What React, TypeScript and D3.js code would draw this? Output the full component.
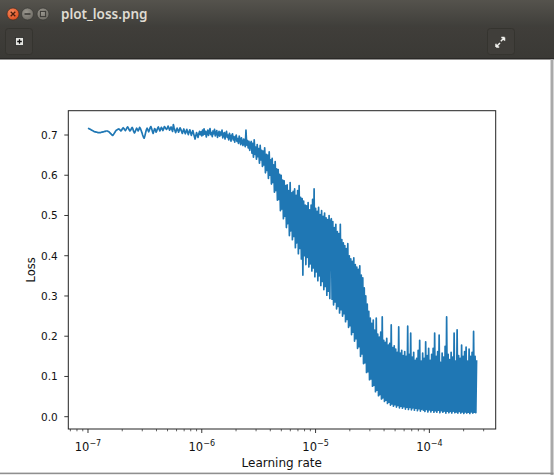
import React from 'react';
import * as d3 from 'd3';

// learning-rate schedule (exponential sweep)
const lrStart = 1e-7;
const lrEnd = 2.6e-4;

// loss values, in order of increasing learning rate
const lossWarmup = [
  .717,.716,.715,.714,.713,.712,.711,
  .710,.709,.708,.708,.707,.707,.706,.706,.706,.706,.706,.707,.707,.708,.708,.709,
  .709,.710,.710,.710,.709,.708,.706,.704,.702,.700,
  .699,.701,.704,.707,.710,.712,.713,.714,
  .715,.714,.712,.710,.712,.716,.718,.716,.713,.711,
  .714,.718,.720,.717,.713,.710,.712,.716,.719,.715,.709,.705,.708,.713,.717,.714,.710,.714,.719,.716,
  .711,.706,.700,.695,.692,.698,.706,.713,.717,.713,.708,.712,.718,.721,.716,.709,.704,.710,.716,.713,
  .707,.711,.717,.720,.715,.710,.714,.719,.716,.711,.715,.721,.719,.716,.714,.717,.722,.718,.712,.716,
  .720,.714,.709,.726,.718,.712,.706,.711,.717,.713,.707,.712,.718,.714,.709,.704,.710,.715,.708,.703,
  .709,.714,.707,.701,.708,.713,.706,.699,.705,.711,.704,.697,.690,.698,.706,.700,.694,.703,.709,.701,
];

const lossPlateauEnd = [
  .708,.698,.712,.700,.715,.702,.709,.695,.706,.712,.699,.708,.716,.701,.706,.696,.710,.703,.714,.698,
  .705,.711,.694,.702,.709,.697,.707,.700,.712,.693,.700,.706,.690,.703,.709,.694,.700,.688,.704,.697,
  .685,.699,.703,.688,.696,.682,.694,.700,.684,.691,.679,.697,.689,.676,.693,.683,.674,.690,.680,.671,
  .712,.675,.686,.668,.684,.662,.679,
];

const lossDescent = [
  .684,.655,.679,.645,.688,.652,.670,.640,.676,.646,.666,.630,.674,.638,.662,.622,
  .660,.626,.668,.606,.652,.612,.650,.592,.658,.600,.638,.578,.642,.582,.626,.558,
  .634,.562,.616,.538,.614,.540,.602,.512,.600,.516,.588,.492,.586,.498,.574,.470,
  .576,.480,.562,.450,.582,.462,.556,.440,.560,.448,.566,.420,.550,.432,.562,.405,
  .574,.418,.545,.392,.542,.352,.536,.400,.526,.378,.524,.396,.532,.372,.514,.380,
  .526,.362,.540,.370,.566,.348,.518,.360,.510,.338,.520,.350,.502,.326,.512,.336,
  .498,.316,.506,.324,.494,.302,.490,.312,.500,.294,.486,
];

const lossFloor = [
  .492,.292,.485,.278,.470,.285,.478,.268,.460,.274,.455,.258,.478,.266,.440,.250,
  .432,.256,.425,.236,.418,.242,.430,.222,.400,.226,.392,.204,.386,.210,.395,.188,
  .378,.194,.372,.170,.366,.174,.375,.150,.352,.156,.345,.132,.320,.134,.300,.110,
  .280,.112,.262,.092,.245,.094,.232,.076,.240,.078,.215,.062,.245,.066,.205,.052,
  .198,.055,.210,.044,.248,.047,.190,.038,.185,.041,.195,.033,.178,.036,.182,.029,
  .228,.032,.172,.026,.176,.030,.168,.024,.160,.028,.223,.022,.158,.026,.165,.021,
  .152,.025,.162,.019,.150,.024,.225,.018,.155,.023,.208,.017,.148,.022,.160,.016,
  .140,.021,.145,.015,.165,.020,.190,.014,.138,.019,.158,.016,.145,.013,.186,.018,
  .152,.012,.170,.017,.140,.012,.155,.016,.170,.011,.208,.015,.150,.011,.162,.016,
  .203,.010,.135,.015,.158,.011,.148,.014,.175,.009,.248,.014,.155,.010,.142,.013,
  .160,.009,.148,.014,.208,.010,.138,.012,.216,.009,.152,.013,.145,.009,.178,.012,
  .150,.008,.162,.012,.173,.009,.138,.011,.168,.008,.150,.012,.160,.009,.212,.011,
  .150,.010,.140,
];

const yTickValues = [0, 0.1, 0.2, 0.3, 0.4, 0.5, 0.6, 0.7];
const xMajorExponents = [-7, -6, -5, -4];
const xLabel = 'Learning rate';
const yLabel = 'Loss';
const windowTitle = 'plot_loss.png';

export default function App() {
  const losses = [...lossWarmup, ...lossPlateauEnd, ...lossDescent, ...lossFloor];
  const n = losses.length;
  const lrs = losses.map((_, i) => lrStart * Math.pow(lrEnd / lrStart, i / (n - 1)));

  const left = 68.3, right = 495.7, top = 110.7, bottom = 429;
  const x = d3.scaleLog().domain([Math.pow(10, -7.173), Math.pow(10, -3.417)]).range([left, right]);
  const y = d3.scaleLinear().domain([0, 0.7]).range([416.7, 135]);
  const line = d3.line<number>().x((_, i) => x(lrs[i])).y((d) => y(d));

  const [d0, d1] = x.domain();
  const minorTicks: number[] = [];
  for (let e = -8; e <= -3; e++) {
    for (let m = 2; m <= 9; m++) {
      const v = m * Math.pow(10, e);
      if (v >= d0 && v <= d1) minorTicks.push(v);
    }
  }

  const font = 'DejaVu Sans, sans-serif';
  const axisColor = '#222';

  return (
    <svg width={554} height={475} style={{ position: 'absolute', left: 0, top: 0 }} xmlns="http://www.w3.org/2000/svg">
      <defs>
        <linearGradient id="titlebar" x1="0" y1="0" x2="0" y2="1">
          <stop offset="0" stopColor="#55534d" />
          <stop offset="1" stopColor="#3f3e3a" />
        </linearGradient>
        <linearGradient id="toolbar" x1="0" y1="0" x2="0" y2="1">
          <stop offset="0" stopColor="#403e3a" />
          <stop offset="1" stopColor="#3a3935" />
        </linearGradient>
        <radialGradient id="closeBtn" cx="0.4" cy="0.35" r="0.7">
          <stop offset="0" stopColor="#f58a5f" />
          <stop offset="1" stopColor="#dc4a1a" />
        </radialGradient>
        <radialGradient id="grayBtn" cx="0.4" cy="0.35" r="0.7">
          <stop offset="0" stopColor="#9a978f" />
          <stop offset="1" stopColor="#6e6b64" />
        </radialGradient>
        <clipPath id="plotClip">
          <rect x={left} y={top} width={right - left} height={bottom - top} />
        </clipPath>
      </defs>

      <rect x={0} y={0} width={554} height={475} fill="#ffffff" />

      {/* window title bar */}
      <rect x={0} y={0} width={554} height={27} fill="url(#titlebar)" />
      <rect x={0} y={27} width={554} height={31} fill="url(#toolbar)" />
      <rect x={0} y={58} width={554} height={1.5} fill="#2a2927" />
      <circle cx={13} cy={14} r={6} fill="url(#closeBtn)" stroke="#3a2a22" strokeWidth={0.6} />
      <path d="M10.7,11.7 L15.3,16.3 M15.3,11.7 L10.7,16.3" stroke="#4a1d0c" strokeWidth={1.3} />
      <circle cx={27.5} cy={14} r={6} fill="url(#grayBtn)" stroke="#33322f" strokeWidth={0.6} />
      <rect x={24.5} y={13.2} width={6} height={1.6} fill="#3e3c38" />
      <circle cx={43} cy={14} r={6} fill="url(#grayBtn)" stroke="#33322f" strokeWidth={0.6} />
      <rect x={40.4} y={11.4} width={5.2} height={5.2} fill="none" stroke="#3e3c38" strokeWidth={1.1} />
      <text x={61} y={18.5} fontFamily="Noto Sans, sans-serif" fontSize={13.5} fontWeight={600} fill="#dfdbd2">
        {windowTitle}
      </text>

      {/* toolbar buttons */}
      <rect x={5.5} y={28.5} width={27} height={26} rx={3} fill="#403e3a" stroke="#35342f" />
      <rect x={15.5} y={37.5} width={8} height={8} fill="#e6e6e2" stroke="#2a2a28" strokeWidth={0.8} />
      <path d="M19.5,39.2 V43.8 M17.2,41.5 H21.8" stroke="#111" strokeWidth={1.3} />
      <rect x={487.5} y={28.5} width={27} height={26} rx={3} fill="#403e3a" stroke="#35342f" />
      <path d="M496,47 L500,43 M496,47 V43.8 M496,47 H499.2 M504.5,37.5 L500.8,41.2 M504.5,37.5 V40.7 M504.5,37.5 H501.3"
        stroke="#f2f2ee" strokeWidth={1.5} fill="none" />

      {/* window borders */}
      <rect x={550.5} y={59} width={3} height={416} fill="#a9a9a9" />
      <rect x={0} y={472.6} width={553.5} height={1.6} fill="#8f8f8f" />

      {/* data line */}
      <g clipPath="url(#plotClip)">
        <path d={line(losses) || ''} fill="none" stroke="#1f77b4" strokeWidth={1.7} strokeLinejoin="round" />
      </g>

      {/* axes frame */}
      <rect x={left} y={top} width={right - left} height={bottom - top} fill="none" stroke={axisColor} strokeWidth={1} />

      {/* y ticks */}
      {yTickValues.map((v) => (
        <g key={'y' + v}>
          <line x1={left - 4} x2={left} y1={y(v)} y2={y(v)} stroke={axisColor} strokeWidth={0.9} />
          <text x={left - 10.5} y={y(v) + 3.8} textAnchor="end" fontFamily={font} fontSize={10.5} fill="#111">
            {d3.format('.1f')(v)}
          </text>
        </g>
      ))}

      {/* x minor ticks */}
      {minorTicks.map((v, i) => (
        <line key={'m' + i} x1={x(v)} x2={x(v)} y1={bottom} y2={bottom + 2.3} stroke={axisColor} strokeWidth={0.7} />
      ))}

      {/* x major ticks */}
      {xMajorExponents.map((e) => {
        const px = x(Math.pow(10, e));
        return (
          <g key={'x' + e}>
            <line x1={px} x2={px} y1={bottom} y2={bottom + 4} stroke={axisColor} strokeWidth={0.9} />
            <text x={px} y={451.3} textAnchor="middle" fontFamily={font} fontSize={11.5} fill="#111">
              10
              <tspan fontSize={8} dy={-5.8}>{'\u2212' + Math.abs(e)}</tspan>
            </text>
          </g>
        );
      })}

      {/* axis labels */}
      <text x={281.7} y={466.7} textAnchor="middle" fontFamily={font} fontSize={12} fill="#111">
        {xLabel}
      </text>
      <text transform={`translate(34.5, ${(top + bottom) / 2}) rotate(-90)`} textAnchor="middle" fontFamily={font} fontSize={11.5} fill="#111">
        {yLabel}
      </text>
    </svg>
  );
}
